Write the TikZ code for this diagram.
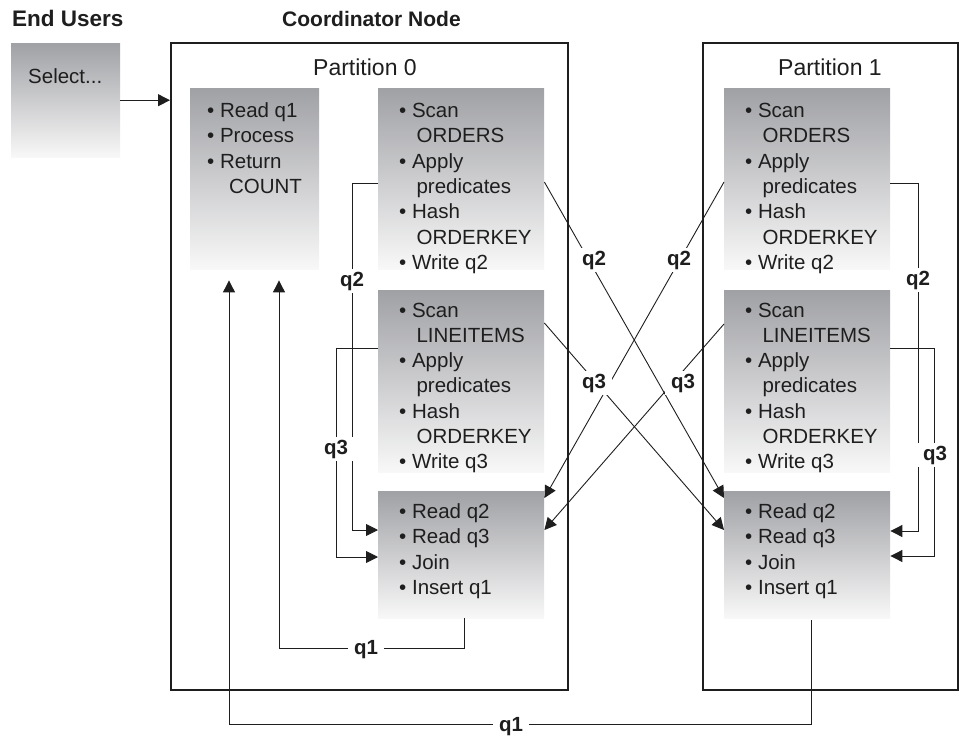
\documentclass[tikz,border=0pt]{standalone}
\usepackage{fontspec}
\setmainfont{Liberation Sans}
\usetikzlibrary{arrows.meta}

\definecolor{ink}{RGB}{30,30,30}
\definecolor{shadetop}{RGB}{160,161,165}
\definecolor{shadebot}{RGB}{248,248,248}

% bullet list of one stage; the node's base is the first line's baseline
\newcommand\boxlines[1]{\begin{tabular}[t]{@{}l@{}}#1\end{tabular}}
% indent of a wrapped item line
\newcommand\cont[1][4.5pt]{\hphantom{•\ }\hspace*{#1}}

\begin{document}
\begin{tikzpicture}[x=1pt,y=-1pt,
  every node/.style={text=ink},
  part/.style={draw=ink, line width=2pt, inner sep=0pt, anchor=north west},
  stage/.style={top color=shadetop, bottom color=shadebot, inner sep=0pt, anchor=north west},
  body/.style={font=\fontsize{20.5}{25.3}\selectfont, inner sep=0pt, anchor=base west},
  head/.style={font=\bfseries\fontsize{21}{24}\selectfont, inner sep=0pt, anchor=base west},
  title/.style={font=\fontsize{23}{26}\selectfont, inner sep=0pt, anchor=base west},
  lbl/.style={font=\bfseries\fontsize{20.5}{24}\selectfont, fill=white, inner xsep=6pt, inner ysep=3pt},
  conn/.style={draw=ink, line width=0.9pt},
  flow/.style={conn, -{Triangle[length=12pt,width=12pt]}},
]
\useasboundingbox (0,0) rectangle (959,736);

% column headings
\node[head, font=\bfseries\fontsize{22.5}{26}\selectfont] (users) at (12,26) {End Users};
\node[head] (coord) at (282,26) {Coordinator Node};

% the query issued by the end user
\node[stage, minimum width=109pt, minimum height=114pt] (sel) at (11,43) {};
\node[body] (selt) at (28,83) {Select...};

% the two database partitions
\node[part, minimum width=397pt, minimum height=647pt] (p0) at (170,42) {};
\node[part, minimum width=255pt, minimum height=647pt] (p1) at (702,42) {};
\node[title] (p0t) at (313,75) {Partition 0};
\node[title] (p1t) at (778,75) {Partition 1};

% stages on partition 0
\node[stage, minimum width=129pt, minimum height=181pt] (a0) at (190,88) {};
\node[stage, minimum width=166pt, minimum height=181pt] (b0) at (378,88) {};
\node[stage, minimum width=166pt, minimum height=182pt] (c0) at (378,290) {};
\node[stage, minimum width=166pt, minimum height=127pt] (d0) at (378,491) {};

% stages on partition 1
\node[stage, minimum width=166pt, minimum height=181pt] (b1) at (724,88) {};
\node[stage, minimum width=166pt, minimum height=182pt] (c1) at (724,290) {};
\node[stage, minimum width=166pt, minimum height=127pt] (d1) at (724,491) {};

% stage texts
\node[body] (ta0) at (207,117.5) {\boxlines{• Read q1\\• Process\\• Return\\\cont[9pt]COUNT}};
\node[body] (tb0) at (399,117.5) {\boxlines{• Scan\\\cont ORDERS\\• Apply\\\cont predicates\\• Hash\\\cont ORDERKEY\\• Write q2}};
\node[body] (tc0) at (399,317) {\boxlines{• Scan\\\cont LINEITEMS\\• Apply\\\cont predicates\\• Hash\\\cont ORDERKEY\\• Write q3}};
\node[body] (td0) at (399,518.5) {\boxlines{• Read q2\\• Read q3\\• Join\\• Insert q1}};
\node[body] (tb1) at (745,117.5) {\boxlines{• Scan\\\cont ORDERS\\• Apply\\\cont predicates\\• Hash\\\cont ORDERKEY\\• Write q2}};
\node[body] (tc1) at (745,317) {\boxlines{• Scan\\\cont LINEITEMS\\• Apply\\\cont predicates\\• Hash\\\cont ORDERKEY\\• Write q3}};
\node[body] (td1) at (745,518.5) {\boxlines{• Read q2\\• Read q3\\• Join\\• Insert q1}};

% query enters the coordinator
\draw[flow] (sel.east) -- (sel.east -| p0.west);

% table queues kept on the same partition
\draw[flow] ([yshift=-95pt]b0.north west) -- ++(-26,0) |- ([yshift=-39pt]d0.north west);
\draw[flow] ([yshift=-58pt]c0.north west) -- ++(-42,0) |- ([yshift=-66pt]d0.north west);
\draw[flow] ([yshift=-95pt]b1.north east) -- ++(28,0) |- ([yshift=-40pt]d1.north east);
\draw[flow] ([yshift=-58pt]c1.north east) -- ++(44,0) |- ([yshift=-65pt]d1.north east);

% table queues sent across partitions
\draw[flow] ([yshift=-94pt]b0.north east) -- ([yshift=-7pt]d1.north west);
\draw[flow] ([yshift=-33pt]c0.north east) -- ([yshift=-39pt]d1.north west);
\draw[flow] ([yshift=-94pt]b1.north west) -- ([yshift=-7pt]d0.north east);
\draw[flow] ([yshift=-34pt]c1.north west) -- ([yshift=-39pt]d0.north east);

% results returned to the coordinator
\draw[flow] ([xshift=3pt]d0.south) -- ++(0,30) -| ([xshift=89pt,yshift=-11pt]a0.south west);
\draw[flow] ([xshift=4pt,yshift=-2pt]d1.south) -- ++(0,104) -| ([xshift=39pt,yshift=-11pt]a0.south west);

% queue labels
\node[lbl] (lq2a) at (352,281) {q2};
\node[lbl] (lq3a) at (336,449) {q3};
\node[lbl] (lq2b) at (918,280) {q2};
\node[lbl] (lq3b) at (935,455) {q3};
\node[lbl] (lq2c) at (594,260) {q2};
\node[lbl] (lq3c) at (594,383) {q3};
\node[lbl] (lq2d) at (679,260) {q2};
\node[lbl] (lq3d) at (683,383) {q3};
\node[lbl] (lq1a) at (366,650) {q1};
\node[lbl] (lq1b) at (511,727) {q1};
\end{tikzpicture}
\end{document}
